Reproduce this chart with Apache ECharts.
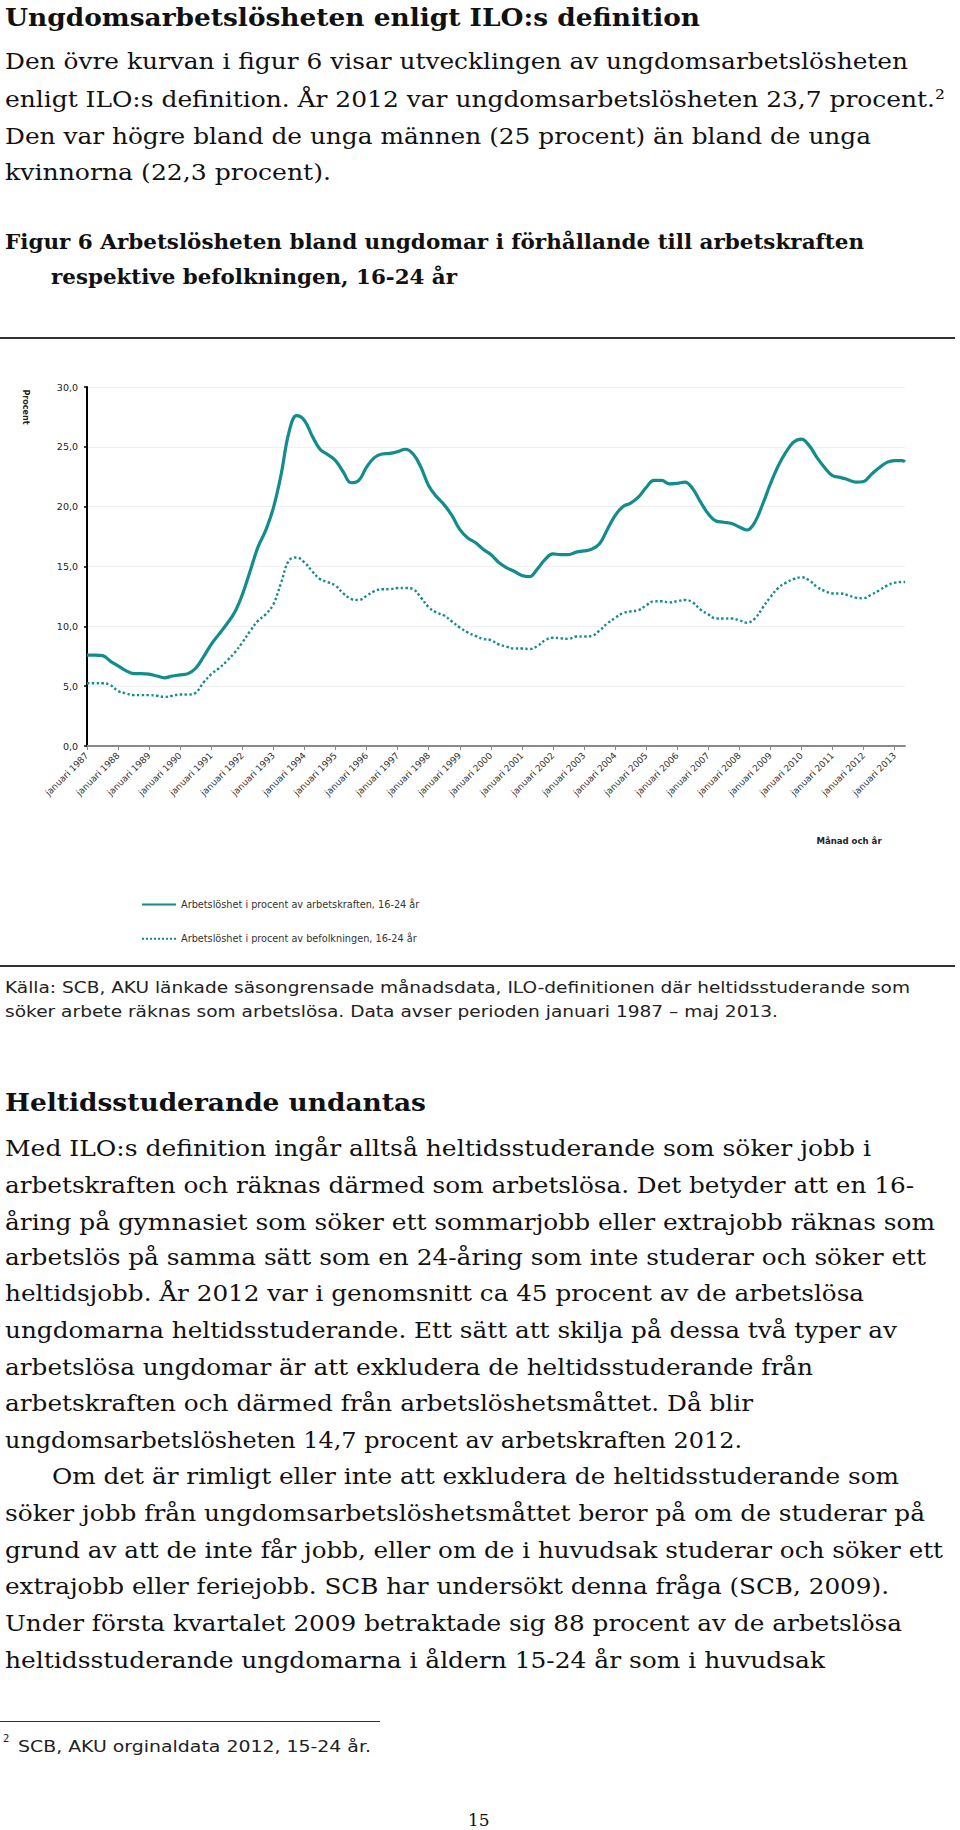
<!DOCTYPE html>
<html>
<head>
<meta charset="utf-8">
<script src="https://cdn.jsdelivr.net/npm/echarts@6.0.0/dist/echarts.min.js"></script>
<style>
  html, body { margin: 0; padding: 0; background: #fff; }
  #page { position: relative; width: 960px; height: 1830px; overflow: hidden; color: #111; }
  .l { position: absolute; left: 5px; white-space: nowrap; transform-origin: 0 50%; }
  .serif { font-family: 'DejaVu Serif', serif; font-size: 23px; line-height: 30px; }
  .hd { font-family: 'DejaVu Serif', serif; font-weight: bold; font-size: 24px; line-height: 30px; }
  .cap { font-family: 'DejaVu Serif', serif; font-weight: bold; font-size: 20px; line-height: 26px; }
  .sans { font-family: 'DejaVu Sans', sans-serif; font-size: 15.5px; line-height: 22px; color: #222; }
  .rule { position: absolute; left: 0; background: #333; }
  #chart { position: absolute; left: 0; top: 340px; width: 960px; height: 624px; }
</style>
</head>
<body>
<div id="page">
  <div class="l hd fit" data-w="695" style="top:3px">Ungdomsarbetslösheten enligt ILO:s definition</div>
  <div class="l serif fit" data-w="903" style="top:46px">Den övre kurvan i figur 6 visar utvecklingen av ungdomsarbetslösheten</div>
  <div class="l serif fit" data-w="940" style="top:84px">enligt ILO:s definition. År 2012 var ungdomsarbetslösheten 23,7 procent.²</div>
  <div class="l serif fit" data-w="866" style="top:121px">Den var högre bland de unga männen (25 procent) än bland de unga</div>
  <div class="l serif fit" data-w="326" style="top:157px">kvinnorna (22,3 procent).</div>

  <div class="l cap fit" data-w="859" style="top:229px">Figur 6 Arbetslösheten bland ungdomar i förhållande till arbetskraften</div>
  <div class="l cap fit" data-w="406" style="top:264px;left:51px">respektive befolkningen, 16-24 år</div>

  <div class="rule" style="top:337px;width:955px;height:2px"></div>
  <div id="chart"></div>
  <div class="rule" style="top:965px;width:955px;height:2px"></div>

  <div class="l sans fit" data-w="905" style="top:977px">Källa: SCB, AKU länkade säsongrensade månadsdata, ILO-definitionen där heltidsstuderande som</div>
  <div class="l sans fit" data-w="773" style="top:1001px">söker arbete räknas som arbetslösa. Data avser perioden januari 1987 – maj 2013.</div>

  <div class="l hd fit" data-w="421" style="top:1088px">Heltidsstuderande undantas</div>
  <div class="l serif fit" data-w="866" style="top:1133px">Med ILO:s definition ingår alltså heltidsstuderande som söker jobb i</div>
  <div class="l serif fit" data-w="909" style="top:1170px">arbetskraften och räknas därmed som arbetslösa. Det betyder att en 16-</div>
  <div class="l serif fit" data-w="930" style="top:1207px">åring på gymnasiet som söker ett sommarjobb eller extrajobb räknas som</div>
  <div class="l serif fit" data-w="921" style="top:1242px">arbetslös på samma sätt som en 24-åring som inte studerar och söker ett</div>
  <div class="l serif fit" data-w="859" style="top:1278px">heltidsjobb. År 2012 var i genomsnitt ca 45 procent av de arbetslösa</div>
  <div class="l serif fit" data-w="892" style="top:1315px">ungdomarna heltidsstuderande. Ett sätt att skilja på dessa två typer av</div>
  <div class="l serif fit" data-w="808" style="top:1352px">arbetslösa ungdomar är att exkludera de heltidsstuderande från</div>
  <div class="l serif fit" data-w="748" style="top:1388px">arbetskraften och därmed från arbetslöshetsmåttet. Då blir</div>
  <div class="l serif fit" data-w="737" style="top:1425px">ungdomsarbetslösheten 14,7 procent av arbetskraften 2012.</div>
  <div class="l serif fit" data-w="847" style="top:1461px;left:52px">Om det är rimligt eller inte att exkludera de heltidsstuderande som</div>
  <div class="l serif fit" data-w="920" style="top:1498px">söker jobb från ungdomsarbetslöshetsmåttet beror på om de studerar på</div>
  <div class="l serif fit" data-w="938" style="top:1535px">grund av att de inte får jobb, eller om de i huvudsak studerar och söker ett</div>
  <div class="l serif fit" data-w="884" style="top:1571px">extrajobb eller feriejobb. SCB har undersökt denna fråga (SCB, 2009).</div>
  <div class="l serif fit" data-w="897" style="top:1608px">Under första kvartalet 2009 betraktade sig 88 procent av de arbetslösa</div>
  <div class="l serif fit" data-w="820" style="top:1645px">heltidsstuderande ungdomarna i åldern 15-24 år som i huvudsak</div>

  <div class="rule" style="top:1721px;width:380px;height:1px"></div>
  <div class="l sans" style="top:1733px;left:3px;font-size:10px;line-height:12px">2</div>
  <div class="l sans fit" data-w="353" style="top:1736px;left:18px">SCB, AKU orginaldata 2012, 15-24 år.</div>

  <div class="l serif" style="top:1806px;left:468px;font-size:17px;line-height:28px">15</div>
</div>
<script>
// arbetslöshet, kvartalsvis avläst (jan, apr, jul, okt), sist jan/apr/maj 2013
const labourForce = [
  7.6, 7.6, 7.55, 7.1,
  6.7, 6.3, 6.05, 6.05,
  6.0, 5.85, 5.7, 5.85,
  5.95, 6.05, 6.5, 7.45,
  8.5, 9.35, 10.2, 11.15,
  12.65, 14.6, 16.6, 18.0,
  19.9, 22.7, 26.2, 27.6,
  27.2, 25.9, 24.8, 24.35,
  23.85, 22.9, 22.0, 22.2,
  23.3, 24.1, 24.4, 24.45,
  24.6, 24.8, 24.4, 23.3,
  21.75, 20.85, 20.15, 19.25,
  18.1, 17.4, 17.0, 16.45,
  16.0, 15.35, 14.9, 14.6,
  14.25, 14.15, 14.8, 15.6,
  16.05, 16.0, 16.0, 16.2,
  16.3, 16.45, 16.9, 18.1,
  19.25, 20.0, 20.3, 20.8,
  21.6, 22.2, 22.2, 21.9,
  21.95, 22.05, 21.5, 20.4,
  19.4, 18.8, 18.7, 18.6,
  18.3, 18.05, 18.7, 20.2,
  21.9, 23.4, 24.55, 25.4,
  25.65, 25.1, 24.1, 23.25,
  22.6, 22.45, 22.25, 22.05,
  22.1, 22.7, 23.25, 23.7,
  23.85, 23.85, 23.75
];
const population = [
  5.25, 5.25, 5.25, 5.1,
  4.6, 4.4, 4.25, 4.25,
  4.25, 4.2, 4.1, 4.2,
  4.3, 4.3, 4.45, 5.3,
  6.0, 6.5, 7.1, 7.8,
  8.65, 9.6, 10.45, 11.0,
  11.85, 13.65, 15.5, 15.75,
  15.35, 14.6, 13.95, 13.7,
  13.4, 12.75, 12.3, 12.2,
  12.55, 12.95, 13.1, 13.1,
  13.2, 13.2, 13.1, 12.4,
  11.6, 11.15, 10.9, 10.4,
  9.9, 9.5, 9.2, 8.95,
  8.85, 8.5, 8.3, 8.15,
  8.15, 8.1, 8.35, 8.85,
  9.05, 9.0, 8.95, 9.15,
  9.15, 9.2, 9.65, 10.25,
  10.7, 11.1, 11.25, 11.35,
  11.75, 12.1, 12.1, 12.0,
  12.1, 12.2, 12.0, 11.4,
  11.0, 10.65, 10.65, 10.65,
  10.5, 10.3, 10.65, 11.55,
  12.45, 13.2, 13.65, 13.95,
  14.1, 13.85, 13.3, 12.95,
  12.75, 12.75, 12.6, 12.4,
  12.35, 12.65, 13.0, 13.4,
  13.65, 13.7, 13.7
];
const seriesNames = [
  'Arbetslöshet i procent av arbetskraften, 16-24 år',
  'Arbetslöshet i procent av befolkningen, 16-24 år'
];
const monthNames = ['januari', 'februari', 'mars', 'april', 'maj', 'juni', 'juli',
  'augusti', 'september', 'oktober', 'november', 'december'];
const firstYear = 1987;
const monthCount = 317; // jan 1987 - maj 2013

const categories = [];
for (let i = 0; i < monthCount; i++) {
  categories.push(monthNames[i % 12] + ' ' + (firstYear + Math.floor(i / 12)));
}
// kvartalsvärden ligger på var tredje månad, sista punkten är maj 2013
const sampleMonth = (i) => (i * 3 < monthCount ? i * 3 : monthCount - 1);
const toPoints = (arr) => arr.map((v, i) => [Math.min(sampleMonth(i), monthCount - 1), v]);

// fit text lines to measured widths
document.querySelectorAll('.fit').forEach((el) => {
  const w = el.getBoundingClientRect().width;
  const target = +el.dataset.w;
  if (w > 0) el.style.transform = 'scaleX(' + (target / w) + ')';
});

const teal = '#138c8c';
const chart = echarts.init(document.getElementById('chart'), null, { renderer: 'svg' });
chart.setOption({
  animation: false,
  grid: { left: 87, top: 47, width: 818, height: 359 },
  legend: {
    orient: 'vertical',
    left: 141,
    top: 559,
    padding: 0,
    itemWidth: 34,
    itemHeight: 14,
    itemGap: 23,
    itemStyle: { opacity: 0 },
    textStyle: { fontFamily: 'DejaVu Sans Condensed', fontSize: 10.8, color: '#333' },
    data: seriesNames
  },
  xAxis: {
    type: 'category',
    boundaryGap: false,
    data: categories,
    axisLine: { lineStyle: { color: '#8a8a8a', width: 2 } },
    axisTick: {
      interval: (idx) => idx % 12 === 0,
      length: 4,
      lineStyle: { color: '#8a8a8a', width: 1 }
    },
    axisLabel: {
      interval: (idx) => idx % 12 === 0,
      rotate: 45,
      margin: 8,
      fontFamily: 'DejaVu Sans',
      fontSize: 9,
      color: '#333'
    },
    splitLine: { show: false }
  },
  yAxis: {
    type: 'value',
    min: 0,
    max: 30,
    interval: 5,
    axisLine: { show: true, lineStyle: { color: '#000', width: 2 } },
    axisTick: { show: true, length: 3, lineStyle: { color: '#000', width: 1.5 } },
    axisLabel: {
      margin: 9,
      fontFamily: 'DejaVu Sans',
      fontSize: 9.5,
      color: '#222',
      formatter: (v) => v.toFixed(1).replace('.', ',')
    },
    splitLine: { lineStyle: { color: '#f0f0f0', width: 1 } }
  },
  graphic: [
    {
      type: 'text',
      x: 25, y: 67,
      rotation: -Math.PI / 2,
      style: {
        text: 'Procent',
        fontFamily: 'DejaVu Sans',
        fontWeight: 'bold',
        fontSize: 8,
        fill: '#222',
        align: 'center',
        verticalAlign: 'middle'
      }
    },
    {
      type: 'text',
      x: 849, y: 500,
      style: {
        text: 'Månad och år',
        fontFamily: 'DejaVu Sans Condensed',
        fontWeight: 'bold',
        fontSize: 9.5,
        fill: '#222',
        align: 'center',
        verticalAlign: 'middle'
      }
    }
  ],
  series: [
    {
      name: seriesNames[0],
      type: 'line',
      symbol: 'none',
      smooth: 0.4,
      data: toPoints(labourForce),
      lineStyle: { color: teal, width: 3.2 },
      itemStyle: { color: teal }
    },
    {
      name: seriesNames[1],
      type: 'line',
      symbol: 'none',
      smooth: 0.4,
      data: toPoints(population),
      lineStyle: { color: teal, width: 2.4, type: 'dotted' },
      itemStyle: { color: teal }
    }
  ]
});
</script>
</body>
</html>
